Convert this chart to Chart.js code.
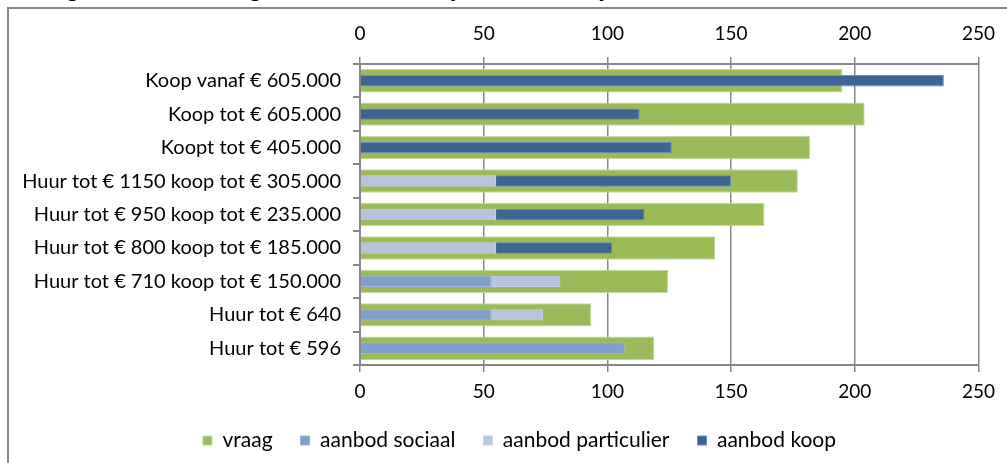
<!DOCTYPE html>
<html>
<head>
<meta charset="utf-8">
<script src="https://cdn.jsdelivr.net/npm/chart.js@4/dist/chart.umd.min.js"></script>
<style>
  html, body { margin: 0; padding: 0; background: #fff; overflow: hidden; }
  #wrap { position: relative; width: 1007px; height: 463px; overflow: hidden; }
  #title { position: absolute; left: 18px; top: -26px; font: italic 26px Lato, sans-serif; line-height: 26px; color: #000; white-space: nowrap; }
  #frame { position: absolute; left: 7px; top: 7px; width: 1100px; height: 600px; border: 2px solid #878787; }
  #c { position: absolute; left: 0; top: 0; }
</style>
</head>
<body>
<div id="wrap">
  <div id="title">Vraag aanbod balans gemeente Noordwijk en Noordwijkerhout</div>
  <div id="frame"></div>
  <canvas id="c" width="1007" height="463"></canvas>
</div>
<script>
// categories top to bottom
const categories = [
  'Koop vanaf € 605.000',
  'Koop tot € 605.000',
  'Koopt tot € 405.000',
  'Huur tot € 1150 koop tot € 305.000',
  'Huur tot € 950 koop tot € 235.000',
  'Huur tot € 800 koop tot € 185.000',
  'Huur tot € 710 koop tot € 150.000',
  'Huur tot € 640',
  'Huur tot € 596'
];
const vraag = [195, 204, 182, 177, 163.5, 143.5, 124.5, 93.5, 119];
const aanbodSociaal = [0, 0, 0, 0, 0, 0, 53, 53, 107];
const aanbodParticulier = [0, 0, 0, 55, 55, 55, 28, 21, 0];
const aanbodKoop = [236, 113, 126, 95, 60, 47, 0, 0, 0];
const xTicks = [0, 50, 100, 150, 200, 250];

const font = { family: 'Lato, "Open Sans", sans-serif', size: 20 };
const tickFont = { family: 'Lato, "Open Sans", sans-serif', size: 19 };
const legendFont = { family: 'Lato, "Open Sans", sans-serif', size: 21 };
const gray = '#878787';

// legend in the original sits a bit right of centre
const legendShift = {
  id: 'legendShift',
  afterLayout(chart) {
    chart.legend.left += 30;
    chart.legend.right += 30;
  }
};

new Chart(document.getElementById('c'), {
  type: 'bar',
  data: {
    labels: categories,
    datasets: [
      { label: 'vraag', data: vraag, stack: 'v', order: 1, backgroundColor: '#9bbb59', borderColor: '#c4d8a0', borderWidth: 1, barPercentage: 0.70 },
      { label: 'aanbod sociaal', data: aanbodSociaal, stack: 'a', backgroundColor: '#7f9ecb', borderColor: '#9fb6d9', borderWidth: 1, barPercentage: 0.34 },
      { label: 'aanbod particulier', data: aanbodParticulier, stack: 'a', backgroundColor: '#b7c5e0', borderColor: '#c9d4e8', borderWidth: 1, barPercentage: 0.34 },
      { label: 'aanbod koop', data: aanbodKoop, stack: 'a', backgroundColor: '#3c6595', borderColor: '#6a8bb5', borderWidth: 1, barPercentage: 0.34 }
    ]
  },
  options: {
    indexAxis: 'y',
    responsive: false,
    animation: false,
    devicePixelRatio: 1,
    layout: { padding: { left: 0, right: 28, top: 8, bottom: 2 } },
    datasets: { bar: { grouped: false, categoryPercentage: 1 } },
    scales: {
      x: {
        position: 'bottom', stacked: true, min: 0, max: 250,
        afterBuildTicks: s => { s.ticks = xTicks.map(v => ({ value: v })); },
        afterFit: s => { s.height = 37; },
        ticks: { color: '#000', font: tickFont, padding: 8, maxRotation: 0 },
        grid: { color: gray, lineWidth: 1.5, tickLength: 7, tickColor: gray },
        border: { color: gray, width: 2 }
      },
      x2: {
        position: 'top', min: 0, max: 250,
        afterBuildTicks: s => { s.ticks = xTicks.map(v => ({ value: v })); },
        afterFit: s => { s.height = 56; },
        ticks: { color: '#000', font: tickFont, padding: 12, maxRotation: 0 },
        grid: { drawOnChartArea: false, color: gray, lineWidth: 1.5, tickLength: 7 },
        border: { color: gray, width: 2 }
      },
      y: {
        afterFit: s => { s.width = 360; },
        ticks: { color: '#000', font: font, padding: 12 },
        grid: { drawOnChartArea: false, color: gray, lineWidth: 2, tickLength: 7 },
        border: { color: gray, width: 2 }
      }
    },
    plugins: {
      legend: {
        position: 'bottom',
        labels: {
          color: '#000', font: legendFont, boxWidth: 9, boxHeight: 9, padding: 28,
          sort: (a, b) => a.datasetIndex - b.datasetIndex
        }
      },
      tooltip: { enabled: false }
    }
  },
  plugins: [legendShift]
});
</script>
</body>
</html>
